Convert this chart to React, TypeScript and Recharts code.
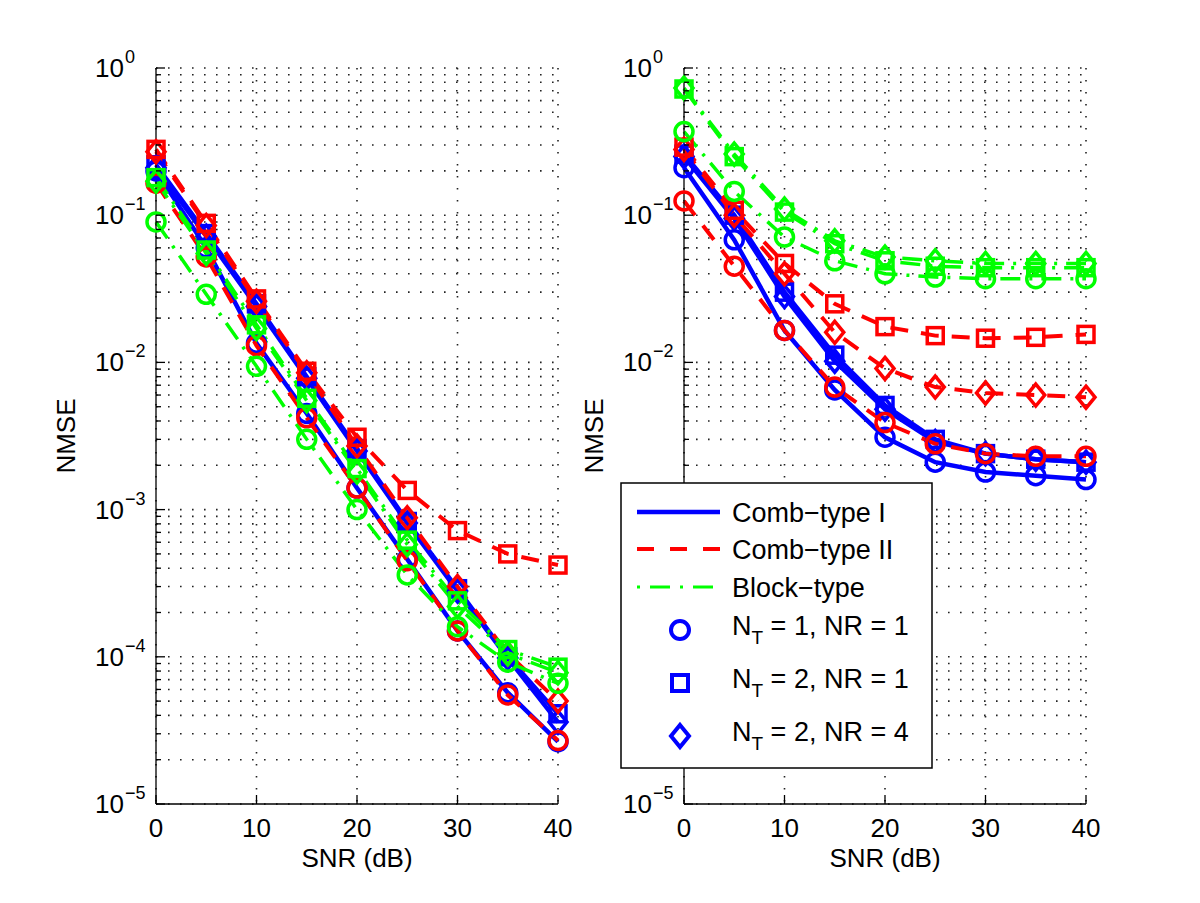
import React from 'react';
import { LineChart, Line, XAxis, YAxis, CartesianGrid, Legend } from 'recharts';

// --- Data ---
const SNR = [0, 5, 10, 15, 20, 25, 30, 35, 40];
const X_TICKS = [0, 10, 20, 30, 40];
const DECADES = [-5, -4, -3, -2, -1];

// left panel
const leftCombI_11 = [0.2, 0.06, 0.0135, 0.0045, 0.0014, 0.00046, 0.00015, 0.000057, 0.0000265];
const leftCombI_21 = [0.22, 0.075, 0.025, 0.008, 0.0026, 0.00083, 0.00029, 0.0001, 0.000041];
const leftCombI_24 = [0.21, 0.072, 0.024, 0.0078, 0.0025, 0.00081, 0.00028, 0.000098, 0.000036];
const leftCombII_11 = [0.165, 0.052, 0.013, 0.0042, 0.0014, 0.00045, 0.00015, 0.000055, 0.000027];
const leftCombII_21 = [0.28, 0.088, 0.027, 0.0087, 0.0031, 0.00135, 0.00072, 0.0005, 0.00042];
const leftCombII_24 = [0.27, 0.085, 0.026, 0.0085, 0.0027, 0.00088, 0.0003, 0.000105, 0.00005];
const leftBlock_11 = [0.09, 0.029, 0.0094, 0.003, 0.001, 0.00036, 0.00016, 0.000092, 0.000066];
const leftBlock_21 = [0.18, 0.058, 0.018, 0.0057, 0.0019, 0.00062, 0.00024, 0.000112, 0.000085];
const leftBlock_24 = [0.17, 0.055, 0.017, 0.0055, 0.0018, 0.00058, 0.00022, 0.000105, 0.000078];

// right panel
const rightCombI_11 = [0.21, 0.068, 0.0165, 0.0065, 0.0031, 0.0021, 0.0018, 0.0017, 0.0016];
const rightCombI_21 = [0.26, 0.1, 0.03, 0.0112, 0.0051, 0.003, 0.0024, 0.0022, 0.0021];
const rightCombI_24 = [0.25, 0.095, 0.028, 0.0102, 0.0048, 0.0029, 0.0024, 0.0022, 0.0021];
const rightCombII_11 = [0.125, 0.045, 0.0165, 0.0068, 0.0039, 0.0028, 0.0024, 0.0023, 0.0023];
const rightCombII_21 = [0.29, 0.108, 0.047, 0.025, 0.0175, 0.0152, 0.0146, 0.0148, 0.0155];
const rightCombII_24 = [0.28, 0.1, 0.04, 0.016, 0.0091, 0.0068, 0.0062, 0.006, 0.0058];
const rightBlock_11 = [0.37, 0.145, 0.071, 0.049, 0.04, 0.038, 0.037, 0.037, 0.037];
const rightBlock_21 = [0.72, 0.25, 0.105, 0.064, 0.049, 0.045, 0.044, 0.044, 0.044];
const rightBlock_24 = [0.73, 0.26, 0.11, 0.067, 0.052, 0.049, 0.047, 0.047, 0.047];

// --- Styles ---
const FONT = '"Liberation Sans", Arial, Helvetica, sans-serif';
const BLUE = '#0000ff';
const RED = '#ff0000';
const GREEN = '#00ff00';
const DASH = '18 13';
const DASH_DOT = '20 9 3 9';

type Marker = 'o' | 's' | 'd';
type SeriesStyle = { key: string; color: string; dash?: string; width: number; marker: Marker };

const STYLES: SeriesStyle[] = [
  { key: 'c1_11', color: BLUE, width: 4.5, marker: 'o' },
  { key: 'c1_21', color: BLUE, width: 4.5, marker: 's' },
  { key: 'c1_24', color: BLUE, width: 4.5, marker: 'd' },
  { key: 'c2_11', color: RED, dash: DASH, width: 4, marker: 'o' },
  { key: 'c2_21', color: RED, dash: DASH, width: 4, marker: 's' },
  { key: 'c2_24', color: RED, dash: DASH, width: 4, marker: 'd' },
  { key: 'b_11', color: GREEN, dash: DASH_DOT, width: 3.5, marker: 'o' },
  { key: 'b_21', color: GREEN, dash: DASH_DOT, width: 3.5, marker: 's' },
  { key: 'b_24', color: GREEN, dash: DASH_DOT, width: 3.5, marker: 'd' },
];

const buildRows = (series: Record<string, number[]>) =>
  SNR.map((snr, i) => {
    const row: Record<string, number> = { snr };
    Object.keys(series).forEach((k) => (row[k] = series[k][i]));
    return row;
  });

const leftRows = buildRows({
  c1_11: leftCombI_11, c1_21: leftCombI_21, c1_24: leftCombI_24,
  c2_11: leftCombII_11, c2_21: leftCombII_21, c2_24: leftCombII_24,
  b_11: leftBlock_11, b_21: leftBlock_21, b_24: leftBlock_24,
});

const rightRows = buildRows({
  c1_11: rightCombI_11, c1_21: rightCombI_21, c1_24: rightCombI_24,
  c2_11: rightCombII_11, c2_21: rightCombII_21, c2_24: rightCombII_24,
  b_11: rightBlock_11, b_21: rightBlock_21, b_24: rightBlock_24,
});

// log ticks: every 1..9 x 10^k plus the top decade
const Y_TICKS: number[] = [];
DECADES.forEach((d) => {
  for (let m = 1; m <= 9; m++) Y_TICKS.push(m * Math.pow(10, d));
});
Y_TICKS.push(1);

function MarkerShape({ shape, x, y, color, sw = 3.5 }: { shape: Marker; x: number; y: number; color: string; sw?: number }) {
  if (shape === 'o') return <circle cx={x} cy={y} r={9} fill="none" stroke={color} strokeWidth={sw} />;
  if (shape === 's') return <rect x={x - 8} y={y - 8} width={16} height={16} fill="none" stroke={color} strokeWidth={sw} />;
  return (
    <polygon
      points={`${x},${y - 11} ${x + 9},${y} ${x},${y + 11} ${x - 9},${y}`}
      fill="none"
      stroke={color}
      strokeWidth={sw}
    />
  );
}

const makeDot = (shape: Marker, color: string) => (props: any) => {
  const { cx, cy, index } = props;
  if (cx == null || cy == null) return <g key={`e-${index}`} />;
  return (
    <g key={`m-${index}`}>
      <MarkerShape shape={shape} x={cx} y={cy} color={color} />
    </g>
  );
};

function YTick(props: any) {
  const { x, y, payload } = props;
  const lg = Math.log10(payload.value);
  const e = Math.round(lg);
  const major = Math.abs(lg - e) < 1e-6;
  return (
    <g>
      <line x1={x} x2={x + (major ? 9 : 5)} y1={y} y2={y} stroke="#000" strokeWidth={1.3} />
      {major && (
        <g fontFamily={FONT} fill="#000">
          <text x={x - 32} y={y + 9} textAnchor="end" fontSize={26}>10</text>
          <text x={x - 31} y={y - 5} textAnchor="start" fontSize={18}>
            {e === 0 ? '0' : `\u2212${-e}`}
          </text>
        </g>
      )}
    </g>
  );
}

function XTick(props: any) {
  const { x, y, payload } = props;
  return (
    <g>
      <line x1={x} x2={x} y1={y} y2={y - 9} stroke="#000" strokeWidth={1.3} />
      <text x={x} y={y + 33} textAnchor="middle" fontFamily={FONT} fontSize={26} fill="#000">
        {payload.value}
      </text>
    </g>
  );
}

const LEGEND_LINES = [
  { label: 'Comb\u2212type I', color: BLUE, dash: undefined, width: 4.5 },
  { label: 'Comb\u2212type II', color: RED, dash: '17 16', width: 4 },
  { label: 'Block\u2212type', color: GREEN, dash: '3 10 20 10', width: 3 },
];
const LEGEND_MARKERS: { shape: Marker; nt: string; nr: string }[] = [
  { shape: 'o', nt: '1', nr: '1' },
  { shape: 's', nt: '2', nr: '1' },
  { shape: 'd', nt: '2', nr: '4' },
];

function LegendBox() {
  const lineRows = [30, 67, 105];
  const markRows = [148, 201, 254];
  return (
    <svg width={314} height={288} style={{ display: 'block' }}>
      <rect x={1} y={1} width={311} height={285} fill="#fff" stroke="#000" strokeWidth={1.5} />
      {LEGEND_LINES.map((l, i) => (
        <g key={l.label}>
          <line x1={17} x2={100} y1={lineRows[i]} y2={lineRows[i]} stroke={l.color} strokeWidth={l.width} strokeDasharray={l.dash} />
          <text x={112} y={lineRows[i] + 10} fontFamily={FONT} fontSize={27} fill="#000">{l.label}</text>
        </g>
      ))}
      {LEGEND_MARKERS.map((m, i) => (
        <g key={m.shape}>
          <MarkerShape shape={m.shape} x={60} y={markRows[i]} color={BLUE} sw={4} />
          <text x={112} y={markRows[i] + 5} fontFamily={FONT} fontSize={27} fill="#000">
            N<tspan dy={9} fontSize={19}>T</tspan>
            <tspan dy={-9}>{` = ${m.nt}, NR = ${m.nr}`}</tspan>
          </text>
        </g>
      ))}
    </svg>
  );
}

function Panel({ rows, showLegend }: { rows: Record<string, number>[]; showLegend?: boolean }) {
  return (
    <LineChart width={600} height={903} data={rows} margin={{ top: 68, right: 42, bottom: 19, left: 56 }}>
      <CartesianGrid stroke="#222" strokeWidth={1.6} strokeDasharray="1.6 10.4" />
      <XAxis
        dataKey="snr"
        type="number"
        domain={[0, 40]}
        ticks={X_TICKS}
        interval={0}
        height={80}
        tickSize={0}
        tickMargin={0}
        tick={(p: any) => <XTick {...p} />}
        axisLine={{ stroke: '#000', strokeWidth: 1.3 }}
        label={{
          content: (p: any) => {
            const vb = p.viewBox;
            return (
              <text x={vb.x + vb.width / 2} y={vb.y + 63} textAnchor="middle" fontFamily={FONT} fontSize={26} fill="#000">
                SNR (dB)
              </text>
            );
          },
        }}
      />
      <YAxis
        scale="log"
        type="number"
        domain={[1e-5, 1]}
        allowDataOverflow
        ticks={Y_TICKS}
        interval={0}
        width={100}
        tickSize={0}
        tickMargin={0}
        tick={(p: any) => <YTick {...p} />}
        axisLine={{ stroke: '#000', strokeWidth: 1.3 }}
        label={{
          content: (p: any) => {
            const vb = p.viewBox;
            const cx = vb.x + vb.width - 90;
            const cy = vb.y + vb.height / 2;
            return (
              <text x={cx} y={cy} transform={`rotate(-90 ${cx} ${cy})`} textAnchor="middle" dominantBaseline="central" fontFamily={FONT} fontSize={26} fill="#000">
                NMSE
              </text>
            );
          },
        }}
      />
      {STYLES.map((s) => (
        <Line
          key={s.key}
          dataKey={s.key}
          type="linear"
          stroke={s.color}
          strokeWidth={s.width}
          strokeDasharray={s.dash}
          dot={makeDot(s.marker, s.color)}
          activeDot={false}
          isAnimationActive={false}
        />
      ))}
      {showLegend && (
        <Legend
          layout="vertical"
          align="center"
          verticalAlign="middle"
          wrapperStyle={{ left: 92, top: 482, width: 314, height: 288 }}
          content={() => <LegendBox />}
        />
      )}
    </LineChart>
  );
}

export default function App() {
  return (
    <div style={{ position: 'absolute', left: 0, top: 0, width: 1200, height: 903, background: '#fff', overflow: 'hidden' }}>
      <div style={{ position: 'absolute', left: 0, top: 0 }}>
        <Panel rows={leftRows} />
      </div>
      <div style={{ position: 'absolute', left: 528, top: 0 }}>
        <Panel rows={rightRows} showLegend />
      </div>
    </div>
  );
}
